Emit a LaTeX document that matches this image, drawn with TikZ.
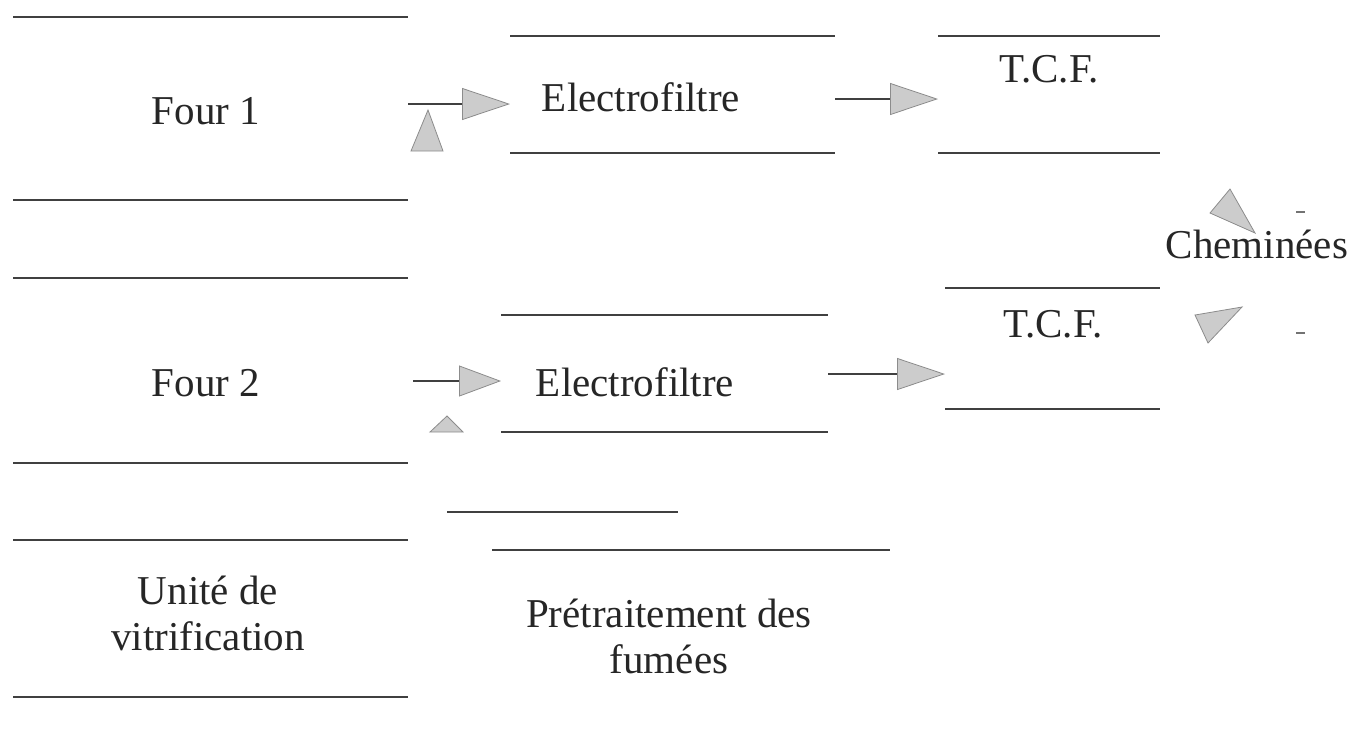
\documentclass[tikz,border=0pt]{standalone}
\usepackage{fontspec}
\setmainfont{Liberation Serif}
\usetikzlibrary{arrows.meta,fit}
\begin{document}
\begin{tikzpicture}[x=0.5pt,y=-0.5pt,
  rule/.style={draw=black!75, line width=0.6pt},
  zone/.style={inner sep=0pt, outer sep=0pt, draw=none},
  txt/.style={font=\fontsize{20.5}{23}\selectfont, text=black!85, align=center, inner sep=0pt, anchor=base},
  flow/.style={draw=black!75, line width=0.6pt, -{Triangle[length=24pt,width=16pt,color=black!45,fill=black!20,line width=0.4pt]}},
  flowsmall/.style={draw=black!75, line width=0.6pt, -{Triangle[length=21pt,width=15.5pt,color=black!45,fill=black!20,line width=0.4pt]}},
  head/.style={fill=black!20, draw=black!45, line width=0.4pt},
  speck/.style={draw=black!55, line width=0.6pt},
]
\useasboundingbox (0,0) rectangle (1355,730);

% boxes (top and bottom rules only)
\node[zone, fit={(13,17) (408,200)}] (four1) {};
\node[zone, fit={(13,278) (408,463)}] (four2) {};
\node[zone, fit={(13,540) (408,697)}] (vitri) {};
\node[zone, fit={(510,36) (835,153)}] (elec1) {};
\node[zone, fit={(501,315) (828,432)}] (elec2) {};
\node[zone, fit={(938,36) (1160,153)}] (tcf1) {};
\node[zone, fit={(945,288) (1160,409)}] (tcf2) {};
\node[zone, fit={(447,512) (890,550)}] (pretr) {};

\foreach \b in {four1,four2,vitri,elec1,elec2,tcf1,tcf2}{
  \draw[rule] (\b.north west) -- (\b.north east);
  \draw[rule] (\b.south west) -- (\b.south east);
}
\draw[rule] (pretr.north west) -- (pretr.north west -| 678,0);
\draw[rule] (pretr.south west -| 492,0) -- (pretr.south east);

% texts
\node[txt] (t-four1) at (206,124) {Four 1};
\node[txt] (t-four2) at (206,396) {Four 2};
\node[txt] (t-vitri) at (208,650) {Unité de\\vitrification};
\node[txt] (t-elec1) at (641,111) {Electrofiltre};
\node[txt] (t-elec2) at (635,396) {Electrofiltre};
\node[txt] (t-tcf1) at (1049,82) {T.C.F.};
\node[txt] (t-tcf2) at (1053,337) {T.C.F.};
\node[txt] (t-chem) at (1257,258) {Cheminées};
\node[txt] (t-pretr) at (669,673) {Prétraitement des\\fumées};

% connectors
\draw[flow] (four1.east |- 0,104) -- (elec1.west |- 0,104);
\draw[flow] (elec1.east |- 0,99) -- (tcf1.west |- 0,99);
\draw[flowsmall] (413,381) -- (elec2.west |- 0,381);
\draw[flow] (elec2.east |- 0,374) -- (tcf2.west |- 0,374);

% small upward heads
\draw[head] (428,110) -- (443,151) -- (411,151) -- cycle;
\draw[head] (447,416) -- (463,432) -- (430,432) -- cycle;

% heads near the chimneys
\draw[head] (1230,189) -- (1255,233) -- (1210,213) -- cycle;
\draw[head] (1195,315) -- (1242,307) -- (1208,343) -- cycle;

% small marks
\draw[speck] (1296,212) -- (1305,212);
\draw[speck] (1296,333) -- (1305,333);
\end{tikzpicture}
\end{document}
